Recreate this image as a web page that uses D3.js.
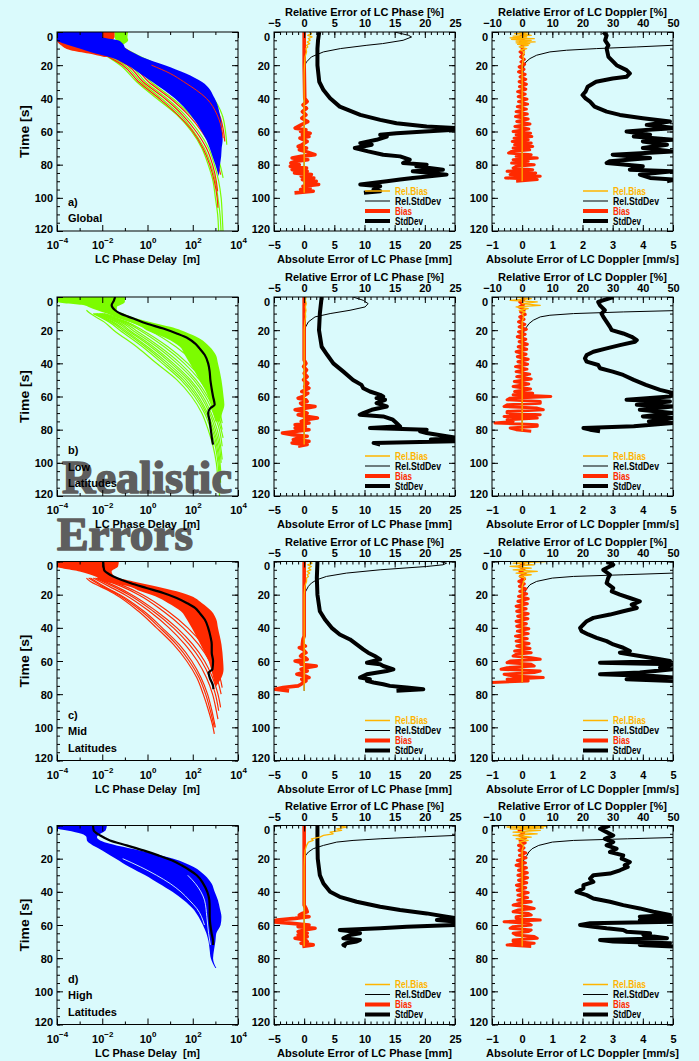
<!DOCTYPE html>
<html>
<head>
<meta charset="utf-8">
<script src="https://cdn.jsdelivr.net/npm/d3@7"></script>
<style>
  body { margin: 0; background: #dafafc; }
  svg text { font-family: "Liberation Sans", Arial, sans-serif; font-weight: bold; }
</style>
</head>
<body>
<script>
// ---------- colours and layout
const BG = "#dafafc";
const ORANGE = "#ffb400", RED = "#ff2a00", GREEN = "#7cfc00", BLUE = "#0000ff";
const colX = [57, 274, 492];
const rowY = [32, 297, 561.5, 825.5];
const pw = 181, ph = 199;

// ---------- axis ticks
const timeTicks = [0, 20, 40, 60, 80, 100, 120];
const delayTicks = [1e-4, 1e-2, 1, 1e2, 1e4];
const delayExp = [-4, -2, 0, 2, 4];
const delayMinor = [1e-3, 1e-1, 1e1, 1e3];
const phaseTicks = [-5, 0, 5, 10, 15, 20, 25];
const dopTicks = [-1, 0, 1, 2, 3, 4, 5];
const dopRelTicks = [-10, 0, 10, 20, 30, 40, 50];
const panelTags = ["a)", "b)", "c)", "d)"];
const panelNames = [["Global"], ["Low", "Latitudes"], ["Mid", "Latitudes"], ["High", "Latitudes"]];
const legendLabels = ["Rel.Bias", "Rel.StdDev", "Bias", "StdDev"];

// ---------- left column: LC phase delay ensembles, [time s, delay m]
// bands are [time, left edge, right edge] of the dense part of the ensemble
const globGreenLines = [
  [[10,0.004],[15,0.018],[20,0.063],[30,0.33],[40,2.5],[50,20],[60,89],[70,250],[80,480],[90,790],[100,1000],[110,1260],[122,1400]],
  [[10,0.005],[15,0.025],[20,0.1],[30,0.5],[40,4],[50,28],[60,110],[70,320],[80,630],[90,1000],[100,1300],[110,1600],[122,1800]],
  [[10,0.006],[15,0.035],[20,0.16],[30,0.8],[40,7],[50,45],[60,180],[70,500],[80,900],[90,1400],[100,1800],[110,2000],[122,2200]],
  [[10,0.008],[15,0.05],[20,0.25],[30,1.4],[40,12.6],[50,80],[60,320],[70,900],[80,1600],[88,2200]],
  [[10,0.1],[15,0.5],[20,3.2],[30,100],[40,800],[50,2000],[60,2800],[68,3200]]
];
const globGreenTop = [[0,0.035,0.14],[3,0.035,0.13],[5,0.04,0.14],[7,0.04,0.1],[9,0.04,0.06],[10,0.05,0.05]];
const globRedLines = [
  [[10,0.005],[15,0.02],[20,0.08],[30,0.4],[40,3.2],[50,22],[60,100],[70,280],[80,560],[90,900],[100,1200],[106,1300]],
  [[10,0.006],[15,0.03],[20,0.13],[30,0.63],[40,5.6],[50,35],[60,140],[70,400],[80,750],[90,1100],[96,1250]],
  [[10,0.008],[15,0.045],[20,0.2],[30,1.1],[40,10],[50,63],[60,250],[70,700],[80,1300],[86,1700]],
  [[10,0.1],[15,0.4],[20,2.5],[30,60],[40,500],[50,1500],[60,2300],[66,2600]]
];
const globRedTop = [[0,0.01,0.035],[3,0.01,0.035],[5,1e-4,0.03],[8,1.5e-4,0.04],[11,4e-4,0.08],[13,2.5e-3,0.15],[15,0.012,0.3]];
const globBlueBand = [[0,1e-4,0.01],[3,1e-4,0.01],[5,1e-4,0.05],[7,2e-4,0.08],[10,1e-3,0.11],[13,5e-3,0.28],[15,0.02,0.56],
  [20,0.13,5.9],[25,0.47,50],[30,1.6,250],[40,16,930],[50,80,1600],[55,150,1860],[60,250,2000],[65,400,2100],
  [70,560,1900],[75,750,1800],[80,1000,1600],[87,1400,1400]];
const globRedOver = [[20,1.5],[25,10],[30,40],[40,400],[50,1200],[60,2000],[64,2200]];

const lowBand = [[0,1e-4,0.1],[3,1e-4,0.1],[5,1.6e-3,0.06],[6,2.5e-3,0.044],[8,6e-3,0.044],[10,0.016,0.087],[12,0.04,0.2],
  [15,0.17,1.3],[18,0.55,10],[20,0.9,30],[21,1.3,45],[25,7,200],[30,27,560],[35,45,1050],[40,74,1300],[50,200,1860],
  [60,480,2300],[65,630,2500],[70,790,2000],[75,1000,1600]];
const lowLines = [
  [[8,0.002],[10,0.003],[15,0.012],[20,0.032],[30,0.33],[40,2.5],[50,20],[60,89],[70,250],[80,480],[90,790],[100,1100],[110,1300],[122,1600]],
  [[10,0.004],[15,0.02],[20,0.06],[30,0.6],[40,4.5],[50,30],[60,120],[70,330],[80,630],[90,1000],[100,1300],[110,1500],[118,1700]],
  [[10,0.0045],[15,0.025],[20,0.08],[30,0.8],[40,6],[50,38],[60,150],[70,390],[80,740],[90,1150],[100,1450],[112,1700]],
  [[10,0.005],[15,0.03],[20,0.1],[30,1.0],[40,8],[50,50],[60,180],[70,450],[80,850],[90,1300],[100,1600],[108,1800]],
  [[10,0.0055],[15,0.04],[20,0.13],[30,1.4],[40,11],[50,65],[60,230],[70,550],[80,1000],[90,1500],[100,1800]],
  [[10,0.006],[15,0.05],[20,0.16],[30,1.8],[40,14],[50,80],[60,280],[70,650],[80,1200],[90,1700],[98,2000]],
  [[10,0.007],[15,0.065],[20,0.22],[30,2.6],[40,20],[50,110],[60,360],[70,820],[80,1500],[90,2000]],
  [[10,0.008],[15,0.08],[20,0.3],[30,3.5],[40,28],[50,140],[60,450],[70,1000],[80,1800],[85,2200]],
  [[10,0.009],[15,0.1],[20,0.45],[30,5.5],[40,42],[50,200],[60,600],[70,1300],[80,2000]],
  [[10,0.01],[15,0.12],[20,0.6],[30,8],[40,60],[50,280],[60,800],[70,1600],[76,2000]],
  [[10,0.012],[15,0.2],[20,1.2],[30,18],[40,130],[50,500],[60,1300],[68,2000]]
];
const lowMedian = [[0,0.037],[2,0.033],[5,0.026],[8,0.037],[10,0.063],[13,0.24],[16,0.9],[19,5],[22,19.5],[25,63],[28,126],
  [31,200],[35,340],[40,480],[45,560],[50,600],[55,680],[60,790],[65,930],[67,600],[70,480],[75,560],[80,630],[85,700],[89,790]];

const midBand = [[0,1e-4,0.054],[3,1e-4,0.05],[6,1e-3,0.026],[9,5e-3,0.035],[12,0.012,0.24],[15,0.15,2.5],[18,0.5,19.5],
  [21,2.2,89],[25,8,250],[30,30,680],[35,55,1100],[40,90,1300],[50,220,1860],[60,500,2200],[65,650,2300],[70,800,1860],[75,1000,1100]];
const midLines = [
  [[10,0.002],[12,0.003],[15,0.008],[20,0.04],[30,0.4],[40,2.5],[50,14],[60,54],[70,150],[80,290],[90,500],[100,790],[104,900]],
  [[10,0.0025],[15,0.01],[20,0.05],[30,0.55],[40,3.5],[50,19],[60,70],[70,190],[80,370],[90,600],[100,900]],
  [[10,0.003],[15,0.012],[20,0.06],[30,0.7],[40,4.5],[50,25],[60,90],[70,230],[80,450],[90,700],[100,1000]],
  [[10,0.004],[15,0.02],[20,0.1],[30,1.2],[40,9],[50,45],[60,160],[70,400],[80,750],[90,1100],[95,1300]],
  [[10,0.005],[15,0.03],[20,0.15],[30,1.8],[40,14],[50,70],[60,240],[70,570],[80,1000],[90,1400]],
  [[10,0.006],[15,0.04],[20,0.2],[30,2.5],[40,20],[50,100],[60,330],[70,750],[80,1300],[88,1700]],
  [[10,0.008],[15,0.07],[20,0.4],[30,5],[40,38],[50,180],[60,550],[70,1150],[80,1800]],
  [[10,0.01],[15,0.1],[20,0.6],[30,8],[40,60],[50,280],[60,800],[70,1600],[76,2000]]
];
const midMedian = [[0,0.011],[5,0.012],[8,0.022],[10,0.044],[13,0.17],[16,0.9],[19,5],[22,19.5],[25,54],[28,126],[31,200],
  [35,340],[40,480],[45,600],[50,690],[55,690],[60,790],[65,740],[67,500],[70,560],[75,790],[77,820]];

const highBand = [[0,1e-4,0.016],[2,1e-4,0.015],[3,2.8e-4,0.014],[5,1.2e-3,0.0081],[7,2e-3,0.0058],[9,2.1e-3,0.0081],
  [11,3e-3,0.022],[15,0.01,0.45],[20,0.04,14],[25,0.16,110],[30,0.8,340],[35,3.2,680],[40,12.6,930],
  [45,40,1300],[50,100,1580],[55,180,1860],[60,280,1700],[65,400,1100],[70,500,1000],[75,560,870],[80,630,790],[86,1000,1100]];
const highGaps = [
  [[20,0.08],[25,0.5],[30,2.5],[35,10],[40,30],[45,70],[50,150],[60,330]],
  [[30,60],[35,130],[40,230],[45,330],[55,420],[65,500],[72,600]]
];
const highMedian = [[0,0.0039],[3,0.0042],[6,0.0081],[9,0.022],[12,0.12],[15,0.66],[18,3],[21,11.7],[24,32],[27,74],[30,150],
  [35,290],[40,440],[45,540],[50,560],[55,560],[60,600],[65,680],[70,790],[72,790]];

// ---------- middle column: LC phase errors, [time s, value] (mm or %)
const phaseStdGlob = [[0,2.5],[5,2.3],[10,2.2],[20,2.2],[30,2.5],[35,3.2],[40,4.3],[45,5.9],[50,9.3],[53,12.6],[55,15.3],[57,20.3],
  [58,25.5],[59,25],[60,20],[61,15.3],[62,12.6],[63,13.7],[65,12],[67,9.3],[68,11.2],[70,8.4],[72,10.6],[74,13.1],[75,15.9],
  [77,17.5],[79,16.4],[80,20.3],[81,18.6],[83,23],[84,18],[86,23.6],[88,18],[89,15.9],[90,13.7],[92,9.3],[93,12.6],[95,11.5],[96,12.6],[97,9.9]];
const phaseRelStdGlob = [[0,15],[2,17.3],[3,17.8],[5,16.4],[7,13],[8,10.4],[10,6],[12,3.2],[15,1.2],[18,0.4],[20,0.1],[30,0],[97,0]];
const phaseRelBiasGlob = [[0,0.8],[1,1.2],[2,0.6],[3,1.3],[4,0.7],[5,1.0],[6,0.5],[7,0.9],[8,0.4],[9,0.6],[10,0.3],[12,0.4],[15,0.15],[20,0.05],[25,0],[97,0]];
const phaseBiasGlob = [[0,0],[20,0],[40,0.1],[42,0.5],[44,-0.2],[46,0.4],[48,-0.3],[50,0.3],[52,-0.4],[54,0.6],[56,-0.5],[58,-1.5],
  [59,0.3],[60,-0.6],[61,1.0],[62,-0.3],[63,0.8],[64,-0.7],[66,0.5],[68,-0.4],[69,-1.0],[70,0.4],[71,-0.8],[72,0.2],[74,1.8],
  [75,-0.5],[76,-2.0],[77,0.6],[78,-1.5],[79,-2.2],[80,-0.8],[81,-2.3],[82,0.4],[83,-2.0],[84,0.5],[85,-1.6],[86,1.2],[87,-0.5],
  [88,1.6],[89,-0.3],[90,2.0],[91,0.2],[92,2.4],[93,-0.2],[94,1.0],[95,-0.6],[96,1.5],[97,-1.6]];

const phaseStdLow = [[0,2.9],[10,2.6],[20,2.46],[30,2.9],[35,3.84],[40,4.83],[45,6.5],[50,8.1],[53,9.5],[55,9.8],[57,10.9],[59,12.6],
  [60,13.1],[61,12.0],[62,13.4],[64,12.0],[66,13.7],[68,11.2],[70,9.8],[71,9.2],[72,13.1],[74,14.7],[76,15.3],[78,15.9],[79,10.9],
  [80,20.3],[81,19.2],[82,20.3],[84,23.6],[85,25.5],[86,21],[87,25.5],[88,11.5],[89,12.6]];
const phaseRelStdLow = [[0,8.1],[2,9.8],[4,10.6],[6,10.1],[8,7.6],[10,4.3],[12,1.8],[15,0.7],[18,0.25],[20,0.1],[25,0],[89,0]];
const phaseRelBiasLow = [[0,0.3],[2,0.2],[4,0.35],[6,0.2],[8,0.3],[10,0.2],[12,0.25],[15,0.1],[20,0],[89,0]];
const phaseBiasLow = [[0,0],[38,0],[40,0.3],[42,-0.1],[44,0.4],[46,0],[48,0.5],[50,-0.1],[52,0.6],[54,0.1],[55,0.8],[57,-0.4],
  [58,0.6],[60,-0.2],[61,-1.0],[62,0.3],[63,0.5],[64,-0.6],[65,-0.3],[66,1.8],[67,0.2],[68,-1.5],[69,-0.2],[70,0.5],[71,-1.0],
  [72,0.3],[73,2.2],[74,0.2],[75,-0.5],[76,0.8],[77,-1.5],[78,0.2],[79,-1.5],[80,0.8],[81,-1.2],[82,-3.6],[83,-2.0],[84,0.5],
  [85,-1.0],[86,-1.8],[87,0.8],[88,-2.0],[89,0.5],[90,-1.0]];

const phaseStdMid = [[0,2.2],[10,2.1],[20,2.2],[30,2.6],[35,3.45],[40,4.56],[44,5.9],[47,7.6],[50,8.7],[53,9.8],[55,10.6],[57,11.7],
  [59,12.6],[60,11.5],[61,10.4],[62,12.6],[63,13.1],[65,14.8],[66,13.7],[68,10.4],[70,9.25],[71,10.9],[72,10.4],[73,11.5],
  [74,13.1],[75,14.2],[76,17],[77,19.75],[78,15.3]];
const phaseRelStdMid = [[0,22.5],[1,23.6],[2,23],[3,20.3],[5,12.6],[7,7],[9,3.7],[11,2.1],[13,1.2],[15,0.7],[18,0.25],[20,0.1],[25,0],[78,0]];
const phaseRelBiasMid = [[0,0.8],[1,1.3],[2,0.6],[3,1.2],[4,0.7],[5,1.1],[6,0.5],[7,0.9],[8,0.5],[9,0.7],[10,0.4],[12,0.4],[15,0.1],[20,0],[78,0]];
const phaseBiasMid = [[0,0],[45,0],[47,-0.2],[50,-0.3],[51,0.2],[52,-0.8],[53,-0.2],[55,0.3],[56,-0.3],[57,-0.6],[58,0.2],[59,0.5],
  [60,-1.5],[61,-0.3],[62,-0.5],[63,2.0],[64,0.3],[65,-0.5],[66,0.5],[67,-0.3],[68,-1.2],[69,0.2],[70,0.8],[71,-0.4],[72,0.3],
  [73,-0.2],[74,-0.5],[75,-1.0],[76,-3.5],[77,-4.8],[78,-2.5]];

const phaseStdHigh = [[0,2.2],[10,2.2],[20,2.25],[30,2.6],[35,3.2],[40,4.3],[43,5.9],[46,8.7],[49,12.6],[51,15.9],[53,20.3],
  [55,23.6],[56,25.5],[57,22],[58,25.5],[60,25.5],[61,17],[62,12.6],[63,5.9],[64,8.1],[65,9.25],[66,7.6],[68,6.5],[69,9.25],
  [70,8.7],[71,7.0],[72,6.5],[73,7.0]];
const phaseRelStdHigh = [[0,80],[3,45],[5,32],[6,25],[7,18.6],[8,12.6],[9,8.1],[10,5.4],[12,3.2],[14,1.5],[16,0.7],[18,0.25],[20,0.1],[25,0],[73,0]];
const phaseRelBiasHigh = [[0,5.7],[1,7],[2,5.4],[3,6.2],[4,4.3],[5,4.8],[6,3.2],[7,2.6],[8,1.2],[9,1.5],[10,0.7],[12,0.4],[15,0.15],[20,0.05],[25,0],[73,0]];
const phaseBiasHigh = [[0,0],[48,0],[50,0.3],[52,0.5],[53,-0.3],[54,-0.8],[55,0.8],[56,-1.5],[57,-4.5],[58,-5.5],[59,-2],[60,0.8],
  [61,-1],[62,1.8],[63,0],[64,-1],[65,0.5],[66,-1],[67,0.5],[68,-1.5],[69,0.2],[70,0.5],[71,-0.5],[72,1.5],[73,-0.3]];

// ---------- right column: LC Doppler errors, [time s, value] (mm/s or %)
const dopStdGlob = [[0,2.69],[2,2.8],[5,2.75],[8,2.86],[10,2.8],[15,2.86],[20,3.13],[23,3.46],[25,3.57],[27,3.46],[28,3.0],[30,2.45],
  [33,2.17],[36,2.1],[38,2.0],[40,2.1],[42,2.25],[45,2.4],[48,2.8],[50,3.24],[52,4.0],[54,4.9],[56,4.13],[58,5.1],[59,4.2],
  [60,3.46],[62,4.24],[63,3.7],[65,5.0],[66,4.0],[68,4.8],[70,4.0],[72,5.0],[74,3.0],[76,4.24],[78,2.9],[79,2.8],[81,4.0],
  [83,3.57],[84,5.0],[86,3.9],[88,4.24],[89,5.0],[90,4.8]];
const dopRelStdGlob = [[0,300],[4,120],[7,70],[8,50],[9,38],[10,24.7],[11,14.7],[12,9.2],[14,4.8],[16,2.6],[18,1.3],[20,0.6],[25,0.2],[30,0],[90,0]];
const dopRelBiasGlob = [[0,-1],[0.5,2],[1,-2.5],[1.5,1],[2,3],[2.5,-3],[3,1.5],[3.5,-4],[4,4],[4.5,-3.5],[5,3],[5.5,-2],[6,4.3],
  [6.5,-2],[7,2.5],[7.5,-1.5],[8,2],[9,-1],[10,1.5],[11,-0.5],[12,0.8],[14,0.2],[16,0.4],[20,0],[90,0]];
const dopBiasGlob = [[0,0],[1.5,0.04],[3,-0.06],[4.5,0.03],[6,-0.05],[7.5,0.06],[9,-0.03],[10.5,0.05],[12,-0.07],[13.5,0.04],
  [15,-0.05],[16.5,0.07],[18,-0.04],[19.5,0.08],[21,-0.1],[22.5,0.06],[24,-0.12],[25.5,0.1],[27,-0.07],[28.5,0.12],[30,-0.1],
  [31.5,0.14],[33,-0.09],[34.5,0.12],[36,-0.15],[37.5,0.1],[39,-0.13],[40.5,0.16],[42,-0.12],[43.5,0.18],[45,-0.16],[46.5,0.14],
  [48,-0.2],[49.5,0.17],[51,-0.22],[52.5,0.2],[54,-0.18],[55.5,0.26],[57,-0.24],[58.5,0.22],[60,-0.3],[61,0.28],[62,-0.2],
  [63,0.32],[64,-0.27],[65,0.2],[66,-0.33],[67,0.3],[68,-0.25],[69,0.35],[70,-0.3],[71,0.25],[72,-0.35],[73,-0.45],[74,0.3],
  [75,-0.2],[76,0.5],[77,-0.3],[78,0.2],[79,-0.35],[80,0.4],[81,-0.2],[82,-0.3],[83,0.35],[84,-0.5],[85,0.45],[86,-0.4],
  [87,0.6],[88,-0.55],[89,0.5],[90,-0.2]];

const dopStdLow = [[0,3.02],[3,2.52],[5,2.58],[8,2.74],[10,2.63],[12,2.69],[15,2.8],[18,2.91],[20,2.97],[22,3.35],[24,3.63],[26,3.8],
  [27,3.74],[29,3.24],[31,2.8],[33,2.36],[35,2.14],[37,2.08],[39,2.14],[41,2.52],[43,2.58],[45,3.0],[47,3.35],[50,3.7],[53,4.1],
  [56,4.57],[58,5.0],[60,4.9],[61,4.13],[62,3.46],[63,4.9],[65,3.8],[66,5.0],[68,3.9],[70,5.0],[72,4.0],[73,5.0],[75,4.2],
  [76,5.0],[78,3.7],[79,2.03],[80,2.25],[81,2.58]];
const dopRelStdLow = [[0,300],[5,120],[8,55],[9,33.5],[10,17],[11,9.2],[12,6],[14,3.7],[16,2.3],[18,1.5],[20,0.6],[25,0.2],[30,0],[81,0]];
const dopRelBiasLow = [[0,-2],[1,3],[2,-4],[3,5],[4,0],[5,6],[6,-2],[7,2],[8,-1],[9,1],[10,0],[12,0.5],[15,0],[81,0]];
const dopBiasLow = [[0,0],[1.5,0.06],[3,-0.08],[4.5,0.05],[6,-0.1],[7.5,0.08],[9,-0.05],[10.5,0.1],[12,-0.08],[13.5,0.06],
  [15,-0.12],[16.5,0.09],[18,-0.1],[19.5,0.14],[21,-0.12],[22.5,0.1],[24,-0.16],[25.5,0.12],[27,-0.1],[28.5,0.17],[30,-0.13],
  [31.5,0.15],[33,-0.2],[34.5,0.13],[36,-0.16],[37.5,0.2],[39,-0.14],[40.5,0.18],[42,-0.22],[43.5,0.16],[45,-0.2],[46.5,0.25],
  [48,-0.18],[49.5,0.3],[51,-0.26],[52.5,0.22],[54,-0.3],[55.5,0.28],[57,-0.25],[58,0.35],[59,-0.3],[60,0.95],[61,-0.4],
  [62,-0.5],[63,0.6],[64,0.6],[65,-0.5],[66,-0.6],[67,0.5],[68,0.7],[69,-0.5],[70,-0.5],[71,0.6],[72,-0.6],[73,0.5],[74,-0.5],
  [75,-0.3],[76,-0.9],[77,0.5],[78,0.5],[79,-0.4],[80,-0.2],[81,0.3]];

const dopStdMid = [[0,2.8],[2,3.02],[5,2.69],[8,2.91],[10,2.85],[13,2.8],[16,3.02],[18,2.97],[20,3.24],[22,3.57],[24,3.9],[26,3.63],
  [28,3.8],[30,3.35],[32,2.91],[34,2.36],[36,2.14],[38,2.03],[40,1.92],[42,1.97],[44,2.19],[46,2.47],[48,2.8],[50,3.02],[52,3.35],
  [54,3.57],[55,3.24],[57,3.9],[59,4.57],[60,4.9],[61,2.58],[62,5.0],[64,4.57],[65,5.0],[67,3.9],[68,2.58],[69,4.35],[70,5.0],
  [71,3.46],[72,5.0]];
const dopRelStdMid = [[0,300],[4,120],[7,50],[8,33.5],[9,17],[10,10],[12,4.8],[14,2.6],[16,1.7],[18,1.0],[20,0.5],[25,0.1],[30,0],[73,0]];
const dopRelBiasMid = [[0,8],[1,-3],[2,4],[3,-4],[4,3],[5,-3],[6,5],[7,-2],[8,3],[9,-1],[10,1],[12,0.5],[15,0],[73,0]];
const dopBiasMid = [[0,0],[1.5,0.05],[3,-0.09],[4.5,0.06],[6,-0.07],[7.5,0.1],[9,-0.06],[10.5,0.08],[12,-0.11],[13.5,0.07],
  [15,-0.09],[16.5,0.12],[18,-0.08],[19.5,0.15],[21,-0.12],[22.5,0.2],[24,-0.14],[25.5,0.17],[27,-0.2],[28.5,0.13],[30,-0.18],
  [31.5,0.2],[33,-0.15],[34.5,0.19],[36,-0.2],[37.5,0.14],[39,-0.18],[40.5,0.22],[42,-0.16],[43.5,0.2],[45,-0.22],[46.5,0.17],
  [48,-0.2],[49.5,0.23],[51,-0.18],[52.5,0.26],[54,-0.25],[55,0.3],[56,-0.2],[57,-0.3],[58,0.3],[59,0.6],[60,-0.4],[61,-0.5],
  [62,0.3],[63,0.4],[64,-0.5],[65,-0.7],[66,0.6],[67,0.4],[68,-0.6],[69,-0.3],[70,0.7],[71,-0.5],[72,0.2],[73,-1.0]];

const dopStdHigh = [[0,2.91],[2,2.58],[4,2.8],[6,3.02],[8,2.74],[10,3.02],[12,2.8],[14,3.13],[16,2.91],[18,3.35],[20,3.3],[22,3.57],
  [24,3.4],[25,3.5],[27,3.24],[29,2.91],[30,2.36],[32,2.25],[34,2.36],[36,2.03],[38,2.03],[40,1.8],[42,2.14],[44,2.36],[46,2.91],
  [48,3.35],[50,3.9],[52,4.35],[54,4.9],[55,3.9],[56,5.0],[57,3.9],[58,5.0],[59,2.25],[60,1.92],[61,2.36],[62,2.8],[63,3.35],
  [64,3.46],[65,4.24],[66,4.02],[67,4.35],[68,4.8],[69,2.58],[70,3.02],[71,4.9],[72,3.9],[73,5.0]];
const dopRelStdHigh = [[0,300],[4,120],[7,55],[8,35],[9,17],[10,10],[12,5.5],[14,3.3],[16,2.2],[18,1.6],[20,0.6],[25,0.2],[30,0],[73,0]];
const dopRelBiasHigh = [[0,-6],[0.5,8],[1,-5],[1.5,7],[2,-4],[3,6],[4,-3],[5,5],[6,-3],[7,3],[8,-2],[9,2],[10,-1],[12,0.5],[15,0],[73,0]];
const dopBiasHigh = [[0,0],[1.5,0.07],[3,-0.1],[4.5,0.05],[6,-0.08],[7.5,0.11],[9,-0.07],[10.5,0.1],[12,-0.12],[13.5,0.06],
  [15,-0.1],[16.5,0.12],[18,-0.09],[19.5,0.13],[21,-0.16],[22.5,0.11],[24,-0.2],[25.5,0.14],[27,-0.12],[28.5,0.17],[30,-0.14],
  [31.5,0.18],[33,-0.12],[34.5,0.15],[36,-0.19],[37.5,0.12],[39,-0.16],[40.5,0.2],[42,-0.14],[43.5,0.18],[45,-0.15],[46,0.3],
  [47,-0.1],[48,-0.3],[49,0.15],[50,0.4],[51,-0.15],[52,-0.3],[53,0.2],[54,0.3],[55,-0.2],[56,-0.2],[57,0.6],[58,-0.6],[59,0.2],
  [60,0.3],[61,-0.3],[62,-0.4],[63,0.3],[64,0.2],[65,-0.3],[66,-0.2],[67,0.4],[68,0.5],[69,-0.3],[70,-0.3],[71,0.4],[72,-0.5],[73,0.3]];

// ---------- table of what each row draws
const rows = [
  { layers: [
      { kind: "lines", data: globGreenLines, color: GREEN, w: 1.2 },
      { kind: "band", data: globGreenTop, color: GREEN },
      { kind: "lines", data: globRedLines, color: RED, w: 1.2 },
      { kind: "band", data: globRedTop, color: RED },
      { kind: "band", data: globBlueBand, color: BLUE },
      { kind: "lines", data: [globRedOver], color: RED, w: 1 } ],
    phase: [phaseStdGlob, phaseRelStdGlob, phaseBiasGlob, phaseRelBiasGlob],
    dop: [dopStdGlob, dopRelStdGlob, dopBiasGlob, dopRelBiasGlob] },
  { layers: [
      { kind: "lines", data: lowLines, color: GREEN, w: 1.2 },
      { kind: "band", data: lowBand, color: GREEN },
      { kind: "lines", data: [lowMedian], color: "#000", w: 2.2 } ],
    phase: [phaseStdLow, phaseRelStdLow, phaseBiasLow, phaseRelBiasLow],
    dop: [dopStdLow, dopRelStdLow, dopBiasLow, dopRelBiasLow] },
  { layers: [
      { kind: "lines", data: midLines, color: RED, w: 1.2 },
      { kind: "band", data: midBand, color: RED },
      { kind: "lines", data: [midMedian], color: "#000", w: 2.2 } ],
    phase: [phaseStdMid, phaseRelStdMid, phaseBiasMid, phaseRelBiasMid],
    dop: [dopStdMid, dopRelStdMid, dopBiasMid, dopRelBiasMid] },
  { layers: [
      { kind: "band", data: highBand, color: BLUE },
      { kind: "lines", data: highGaps, color: BG, w: 0.9 },
      { kind: "lines", data: [highMedian], color: "#000", w: 2.2 } ],
    phase: [phaseStdHigh, phaseRelStdHigh, phaseBiasHigh, phaseRelBiasHigh],
    dop: [dopStdHigh, dopRelStdHigh, dopBiasHigh, dopRelBiasHigh] }
];

// style per error series: StdDev, Rel.StdDev, Bias, Rel.Bias (draw order)
const errStyle = [
  { color: "#000", w: 4, rel: false },
  { color: "#000", w: 1, rel: true },
  { color: RED, w: 3.6, rel: false },
  { color: ORANGE, w: 1.3, rel: true }
];
// legend order: Rel.Bias, Rel.StdDev, Bias, StdDev
const legendStyle = [
  { color: ORANGE, w: 1.5, text: ORANGE, len: 33 },
  { color: "#000", w: 1, text: "#000", len: 46 },
  { color: RED, w: 4, text: RED, len: 17 },
  { color: "#000", w: 4, text: "#000", len: 28 }
];

// ---------- drawing: plots below, caption overlay in the middle, axes and texts on top
const svg = d3.select("body").append("svg").attr("width", 699).attr("height", 1061);
svg.append("rect").attr("width", 699).attr("height", 1061).attr("fill", BG);
const defs = svg.append("defs");
const plotLayer = svg.append("g");
const overlayLayer = svg.append("g");
const axisLayer = svg.append("g");
const intFmt = d3.format("d");

function label(g, x, y, str, o = {}) {
  const t = g.append("text").attr("x", x).attr("y", y).text(str)
    .attr("font-size", o.size || 11)
    .attr("text-anchor", o.anchor || "middle")
    .attr("dominant-baseline", "central")
    .attr("fill", o.fill || "#000");
  if (o.len) t.attr("textLength", o.len).attr("lengthAdjust", "spacingAndGlyphs");
  if (o.rot) t.attr("transform", `rotate(-90,${x},${y})`);
  return t;
}

function axisSide(g, axisFn, scale, tr, major, minor, withLabels) {
  const gm = g.append("g").attr("transform", tr)
    .call(axisFn(scale).tickValues(minor).tickSize(-3).tickSizeOuter(0).tickFormat(""));
  const gM = g.append("g").attr("transform", tr)
    .call(axisFn(scale).tickValues(major).tickSize(-6).tickSizeOuter(0).tickFormat(withLabels ? intFmt : ""));
  [gm, gM].forEach(s => {
    s.select(".domain").remove();
    s.attr("font-family", null).attr("font-size", 11);
  });
  gM.selectAll("text").attr("dy", null).attr("dominant-baseline", "central").attr("fill", "#000");
  return gM;
}

function frame(g, x, y, xMajor, xMinor, top) {
  const [x0, x1] = x.range(), [y0, y1] = y.range();
  const yMinor = y.ticks(24);
  const left = axisSide(g, d3.axisLeft, y, `translate(${x0},0)`, timeTicks, yMinor, true);
  left.selectAll("text").attr("x", -4)
    .attr("y", d => d === 0 ? 4 : d === 120 ? -3 : 0);
  axisSide(g, d3.axisRight, y, `translate(${x1},0)`, timeTicks, yMinor, false);
  const bot = axisSide(g, d3.axisBottom, x, `translate(0,${y1})`, xMajor, xMinor, true);
  bot.selectAll("text").attr("y", 14);
  if (top) {
    const tp = axisSide(g, d3.axisTop, top.scale, `translate(0,${y0})`, top.major, top.minor, true);
    tp.selectAll("text").attr("y", -9);
  } else {
    axisSide(g, d3.axisTop, x, `translate(0,${y0})`, xMajor, xMinor, false);
  }
  g.append("rect").attr("x", x0).attr("y", y0).attr("width", x1 - x0).attr("height", y1 - y0)
    .attr("fill", "none").attr("stroke", "#000").attr("stroke-width", 1);
  return bot;
}

function clipped(id, x, y) {
  defs.append("clipPath").attr("id", id).append("rect")
    .attr("x", x.range()[0]).attr("y", y.range()[0])
    .attr("width", pw).attr("height", ph);
  return plotLayer.append("g").attr("clip-path", `url(#${id})`);
}

function legend(g, x0, top) {
  legendLabels.forEach((lab, i) => {
    const s = legendStyle[i], yy = top + 159 + i * 10;
    g.append("line").attr("x1", x0).attr("x2", x0 + 25).attr("y1", yy).attr("y2", yy)
      .attr("stroke", s.color).attr("stroke-width", s.w);
    label(g, x0 + 30, yy, lab, { size: 10, anchor: "start", fill: s.text, len: s.len });
  });
}

rows.forEach((r, i) => {
  const top = rowY[i];
  const y = d3.scaleLinear().domain([0, 120]).range([top, top + ph]);

  // --- left: LC phase delay ensemble
  const xl = d3.scaleLog().domain([1e-4, 1e4]).range([colX[0], colX[0] + pw]);
  const pL = clipped("clipL" + i, xl, y);
  const line = d3.line().x(d => xl(d[1])).y(d => y(d[0])).curve(d3.curveMonotoneY);
  const area = d3.area().y(d => y(d[0])).x0(d => xl(d[1])).x1(d => xl(d[2])).curve(d3.curveMonotoneY);
  r.layers.forEach(l => {
    if (l.kind === "band") {
      pL.append("path").attr("d", area(l.data)).attr("fill", l.color);
    } else {
      pL.selectAll(null).data(l.data).join("path").attr("d", line)
        .attr("fill", "none").attr("stroke", l.color).attr("stroke-width", l.w);
    }
  });
  const gL = axisLayer.append("g");
  const botL = frame(gL, xl, y, delayTicks, delayMinor, null);
  botL.selectAll("text").each(function (d, k) {
    const t = d3.select(this).text("10");
    t.append("tspan").attr("dy", -5).attr("font-size", 8).text(intFmt(delayExp[k]));
  });
  label(gL, 147.5, top + ph + 28, "LC Phase Delay\u00a0\u00a0[m]", { len: 105 });
  label(gL, 25, top + ph / 2, "Time [s]", { rot: true, len: 53, size: 12 });
  const lines = [panelTags[i]].concat(panelNames[i]);
  lines.forEach((s, k) => {
    label(gL, colX[0] + 11, top + 186 - (lines.length - 1 - k) * 16.5, s, { anchor: "start", size: 11 });
  });

  // --- middle: LC phase errors
  const xp = d3.scaleLinear().domain([-5, 25]).range([colX[1], colX[1] + pw]);
  const xpRel = d3.scaleLinear().domain([-5, 25]).range([colX[1], colX[1] + pw]);
  const pP = clipped("clipP" + i, xp, y);
  r.phase.forEach((ser, k) => {
    const s = errStyle[k], xs = s.rel ? xpRel : xp;
    pP.append("path").datum(ser)
      .attr("d", d3.line().x(d => xs(d[1])).y(d => y(d[0])))
      .attr("fill", "none").attr("stroke", s.color).attr("stroke-width", s.w)
      .attr("stroke-linejoin", "round");
  });
  const gP = axisLayer.append("g");
  frame(gP, xp, y, phaseTicks, xp.ticks(30), { scale: xpRel, major: phaseTicks, minor: xpRel.ticks(30) });
  label(gP, colX[1] + pw / 2, top - 20, "Relative Error of LC Phase [%]", { len: 159 });
  label(gP, colX[1] + pw / 2, top + ph + 28, "Absolute Error of LC Phase [mm]", { len: 175 });
  legend(gP, colX[1] + 91, top);

  // --- right: LC Doppler errors
  const xd = d3.scaleLinear().domain([-1, 5]).range([colX[2], colX[2] + pw]);
  const xdRel = d3.scaleLinear().domain([-10, 50]).range([colX[2], colX[2] + pw]);
  const pD = clipped("clipD" + i, xd, y);
  r.dop.forEach((ser, k) => {
    const s = errStyle[k], xs = s.rel ? xdRel : xd;
    pD.append("path").datum(ser)
      .attr("d", d3.line().x(d => xs(d[1])).y(d => y(d[0])))
      .attr("fill", "none").attr("stroke", s.color).attr("stroke-width", k === 2 ? 3 : s.w)
      .attr("stroke-linejoin", "round");
  });
  const gD = axisLayer.append("g");
  frame(gD, xd, y, dopTicks, xd.ticks(30), { scale: xdRel, major: dopRelTicks, minor: xdRel.ticks(30) });
  label(gD, colX[2] + pw / 2, top - 20, "Relative Error of LC Doppler [%]", { len: 169 });
  label(gD, colX[2] + pw / 2, top + ph + 28, "Absolute Error of LC Doppler [mm/s]", { len: 193 });
  legend(gD, colX[2] + 91, top);
});

// ---------- overlay caption (above the curves, below the axis texts)
[["Realistic", 62, 493, 170], ["Errors", 57, 550, 136]].forEach(([s, x, yy, len]) => {
  overlayLayer.append("text").attr("x", x).attr("y", yy).text(s)
    .attr("font-size", 46).attr("fill", "#5e5e5e")
    .attr("stroke", "#5e5e5e").attr("stroke-width", 1.6).attr("stroke-linejoin", "round")
    .attr("textLength", len).attr("lengthAdjust", "spacingAndGlyphs")
    .style("font-family", "'Liberation Serif', 'DejaVu Serif', serif")
    .style("font-weight", "bold");
});
</script>
</body>
</html>
